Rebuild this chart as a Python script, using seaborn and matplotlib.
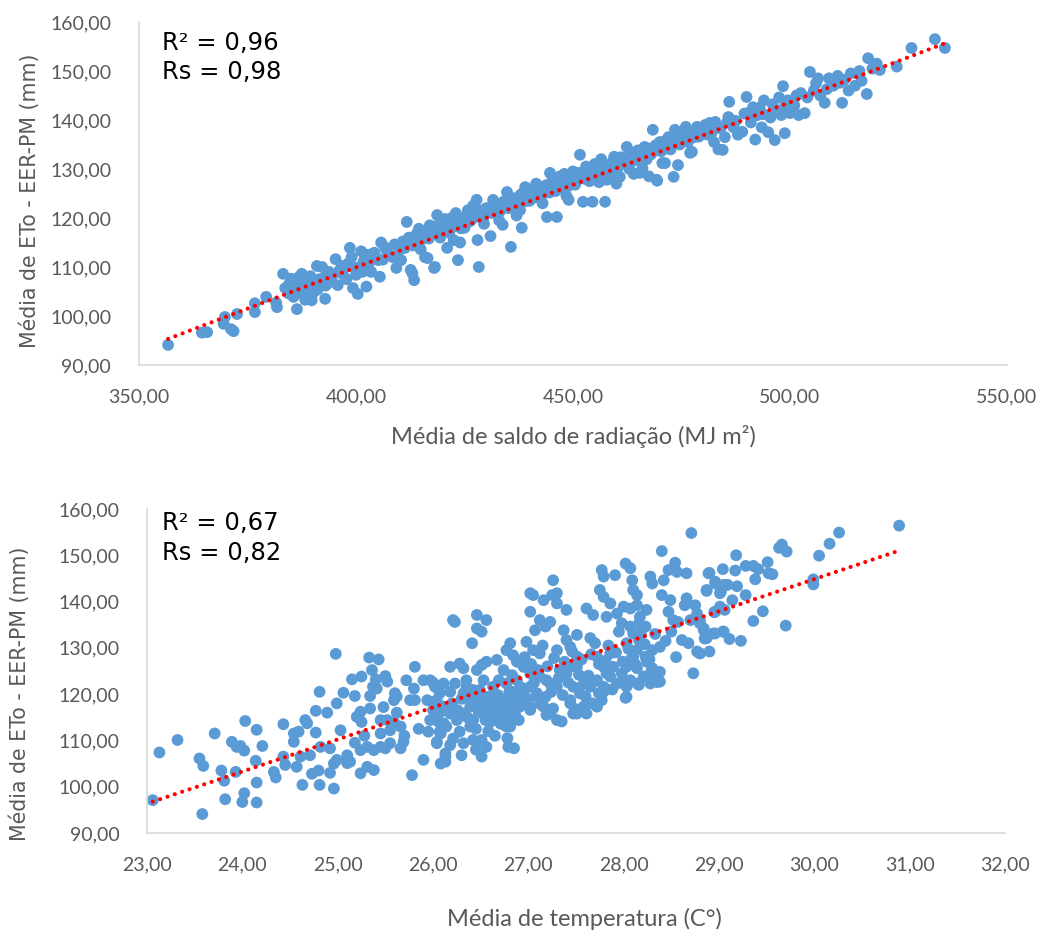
import numpy as np
import pandas as pd
import matplotlib
matplotlib.use("Agg")
import matplotlib.pyplot as plt
import seaborn as sns

# ---------------- data: top panel (net radiation vs ETo) ----------------
rad_x = [356.7, 364.5, 365.7, 371.2, 371.8, 369.8, 369.5, 372.6, 376.7, 376.7, 379.3, 381.6, 381.8,
         383.2, 383.7, 384.5, 385.6, 386.4, 385.0, 386.8, 387.5, 388.3, 389.8, 390.2, 388.7, 392.9,
         391.0, 392.2, 389.5, 390.4, 393.0, 394.5, 395.8, 395.3, 396.8, 398.6, 398.3, 399.3, 400.4,
         402.4, 400.0, 401.2, 401.8, 384.6, 387.0, 391.5, 393.8, 397.0, 399.0, 400.8, 402.8,
         403.5, 404.0, 405.5, 405.8, 406.2, 407.0, 408.5, 409.3, 410.0, 410.4, 411.5, 411.7, 412.6,
         413.0, 413.4, 413.8, 414.5, 415.0, 415.9, 416.4, 416.5, 417.0, 418.0, 418.2, 418.7, 419.4,
         420.0, 420.5,
         421.0, 421.5, 422.0, 422.5, 423.0, 423.5, 424.0, 424.6, 425.0, 425.8, 426.5, 427.0, 427.8,
         428.3, 428.0, 428.6, 429.5, 430.0, 431.0, 431.6, 432.0, 433.0, 433.8, 434.8, 435.2, 435.7,
         436.5, 437.0, 437.8, 438.2, 438.8, 439.0, 440.0,
         441.0, 441.5, 442.0, 443.0, 443.5, 444.0, 444.7, 445.2, 446.0, 446.3, 447.0, 447.5, 448.0,
         448.5, 449.0, 449.5, 450.0, 450.5, 451.6, 452.0, 452.3, 453.0, 453.8, 454.5, 455.0, 455.5,
         456.0, 456.5, 457.4, 457.8, 458.0, 459.0, 459.5, 460.0, 460.8,
         461.5, 462.4, 463.0, 463.5, 464.0, 464.5, 465.4, 466.0, 466.5, 467.0, 467.5, 468.4, 469.3,
         469.4, 470.0, 470.6, 471.2, 472.0, 472.5, 473.2, 473.5, 474.0, 474.2, 475.0, 476.0, 476.5,
         477.0, 477.4, 478.0, 478.6, 479.5,
         480.5, 481.5, 482.0, 482.5, 483.0, 483.5, 484.5, 485.0, 485.5, 486.0, 486.5, 487.0, 488.0,
         489.0, 490.0, 490.5, 491.0, 492.0, 492.5, 493.0, 493.5, 494.0, 495.0, 495.5, 496.5, 497.0,
         498.0, 498.4, 498.8, 499.5, 500.0,
         501.0, 501.5, 502.0, 503.4, 504.6, 505.5, 506.0, 507.0, 508.0, 509.0, 510.0, 511.0, 512.0,
         512.5, 513.5, 515.0, 516.5, 517.7, 518.0, 519.0, 520.0, 520.7, 524.6, 528.0, 533.4, 535.7,
         404.3, 405.1, 406.7, 407.4, 408.9, 409.6, 410.8, 411.3, 412.2, 413.1, 414.0, 414.9, 416.0,
         416.8, 417.6, 418.5, 419.2, 420.3, 421.2, 422.3, 423.2, 424.2, 425.3, 426.0, 426.9, 427.5,
         428.8, 429.3, 430.4, 431.3, 432.4, 433.2, 434.1, 435.0, 436.1, 436.9, 438.0, 438.9, 439.8,
         440.6, 441.8, 442.7, 443.9, 444.6, 445.7, 446.8, 447.7, 448.9, 449.8, 450.9, 451.2, 452.7,
         453.4, 454.2, 455.2, 456.3, 457.1, 458.5, 459.2, 460.4, 461.0, 462.0, 463.2, 464.3, 465.0,
         466.3, 467.2, 468.0, 469.0, 470.3, 471.0, 471.8, 473.0, 474.6, 475.5, 476.8, 477.8, 479.0,
         480.0, 481.0, 482.8, 484.0, 485.8, 487.5, 489.5, 491.5, 493.8, 496.0, 497.5, 499.0, 502.5,
         504.0, 506.5, 508.5, 511.5, 514.0, 516.0,
         385.3, 387.8, 389.0, 391.2, 392.8, 394.0, 396.2, 397.8, 399.6, 401.5, 402.0, 403.0]
rad_y = [94.1, 96.6, 96.7, 97.3, 96.9, 99.8, 98.4, 100.4, 100.8, 102.6, 103.9, 102.7, 101.8,
         108.6, 105.7, 104.6, 103.9, 101.4, 107.6, 107.9, 108.6, 103.3, 103.2, 104.8, 105.6, 103.5,
         110.2, 110.0, 108.1, 106.6, 106.2, 108.2, 106.3, 111.6, 110.2, 113.9, 110.8, 105.7, 104.5,
         106.0, 108.4, 113.2, 111.2, 106.5, 106.0, 107.5, 109.0, 108.5, 112.0, 110.0, 112.5,
         109.0, 112.8, 108.0, 115.0, 111.5, 113.5, 112.0, 109.8, 113.5, 111.4, 114.5, 119.2, 109.4,
         108.7, 107.3, 116.0, 117.8, 115.5, 112.0, 117.0, 111.8, 118.5, 109.8, 110.0, 120.6, 116.0,
         118.2, 119.8,
         113.9, 117.0, 120.0, 115.5, 121.0, 111.4, 115.0, 119.4, 118.0, 121.6, 119.5, 122.5, 123.7,
         110.0, 115.5, 120.6, 118.8, 122.0, 116.3, 123.7, 121.2, 119.5, 118.6, 125.3, 122.0, 114.1,
         124.0, 120.5, 121.6, 118.0, 125.5, 126.3, 123.5,
         125.0, 127.0, 124.2, 123.0, 126.5, 120.2, 129.2, 127.5, 125.5, 120.2, 128.5, 126.0, 129.0,
         124.5, 123.7, 127.8, 129.5, 126.8, 132.9, 128.5, 123.3, 130.5, 127.5, 123.3, 131.0, 129.0,
         127.3, 132.0, 123.3, 127.8, 130.5, 129.0, 132.5, 127.0, 128.4,
         131.5, 134.5, 130.0, 132.5, 129.0, 133.5, 129.2, 130.2, 134.5, 132.0, 128.5, 138.0, 127.8,
         127.6, 135.5, 131.2, 131.2, 136.5, 134.0, 128.4, 138.0, 135.3, 130.8, 137.0, 138.6, 135.5,
         133.3, 133.5, 136.5, 138.6, 137.5,
         139.0, 139.4, 137.5, 135.5, 138.5, 134.0, 133.9, 136.5, 139.5, 143.7, 140.0, 138.5, 137.0,
         137.6, 144.7, 141.5, 139.5, 136.0, 141.0, 142.5, 138.5, 144.0, 137.5, 140.5, 135.9, 142.0,
         141.0, 146.9, 137.3, 144.0, 141.4,
         143.0, 145.0, 141.0, 141.4, 149.8, 146.0, 147.5, 145.0, 143.5, 148.5, 147.0, 149.0, 143.5,
         148.2, 146.0, 147.0, 148.0, 145.3, 152.6, 150.5, 151.5, 150.2, 150.9, 154.7, 156.5, 154.7,
         112.9, 111.4, 114.0, 112.6, 114.6, 112.2, 115.2, 113.9, 116.0, 114.4, 116.8, 113.6, 117.4,
         115.8, 118.0, 116.9, 118.8, 117.5, 119.0, 118.2, 119.8, 117.9, 120.4, 119.2, 121.0, 120.2,
         121.5, 120.0, 122.0, 121.0, 122.8, 121.4, 123.4, 122.4, 124.0, 122.8, 124.8, 123.4, 125.3,
         124.0, 125.9, 124.5, 126.7, 125.2, 127.4, 126.0, 127.9, 126.5, 128.3, 127.6, 129.2, 128.0,
         129.9, 128.4, 130.4, 129.5, 131.0, 129.7, 131.6, 130.3, 132.4, 131.2, 133.1, 131.8, 133.8,
         132.4, 134.2, 133.0, 134.8, 133.6, 135.6, 134.2, 136.2, 135.0, 136.9, 136.0, 137.5, 136.6,
         138.2, 137.0, 139.6, 138.3, 140.6, 139.8, 141.3, 142.6, 141.2, 143.2, 144.6, 143.0, 145.5,
         144.6, 148.5, 146.3, 147.6, 149.5, 150.0,
         105.0, 104.5, 106.8, 105.4, 107.9, 106.9, 109.3, 107.5, 109.8, 109.0, 110.5, 110.8]

# ---------------- data: bottom panel (temperature vs ETo) ----------------
temp_x = [23.06, 23.13, 23.32, 23.55, 23.59, 23.58, 23.71, 23.78, 23.81, 23.82, 23.89, 23.98, 24.02,
          23.94, 23.93, 24.03, 24.00, 24.02, 24.14, 24.15, 24.15, 24.15, 24.21, 24.33, 24.35, 24.43,
          24.43, 24.45, 24.54, 24.59, 24.54, 24.57, 24.61, 24.63, 24.66, 24.68, 24.77, 24.71, 24.73,
          24.80, 24.81, 24.81, 24.77, 24.89, 24.82, 24.92, 24.92, 24.96, 24.98, 24.99, 25.03, 24.96,
          24.99, 25.10, 25.10, 25.06, 25.15, 25.18, 25.20, 25.25, 25.24, 25.24, 25.31, 25.38, 25.33,
          25.43, 25.25, 25.36, 25.40, 25.37, 25.34, 25.34, 25.41, 25.45, 25.52, 25.59, 25.66, 25.45,
          25.55, 25.69, 25.66, 25.50, 25.10, 25.13, 25.24, 25.31, 25.38, 25.45, 25.50, 25.52, 25.60,
          25.59, 25.62, 25.72, 25.80, 25.76, 25.81, 25.81, 25.90, 25.97, 25.94, 26.02, 26.00, 26.08,
          25.97, 26.04, 26.11, 25.95, 26.08, 25.90, 26.13, 26.08, 26.04, 25.78,
          26.00, 26.02, 26.07, 26.04, 26.13, 26.13, 26.21, 26.23, 26.18, 26.28, 26.32, 26.41, 26.46,
          26.56, 26.46, 26.51, 26.46, 26.51, 26.56, 26.35, 26.44, 26.49, 26.32, 26.42, 26.53, 26.51,
          26.51, 26.56, 26.67, 26.77, 26.81, 26.84, 26.74, 26.83, 26.60, 26.70, 26.77, 26.84, 26.63,
          26.74, 26.81, 26.91, 26.79, 27.02, 27.05, 27.16, 27.25, 27.30, 27.26, 27.02, 27.12, 27.07,
          27.18, 27.30, 27.40, 27.37, 27.23, 26.98, 27.05, 27.12, 27.02, 27.12, 27.23, 26.95, 27.02,
          27.09, 27.18, 27.02, 27.19, 27.26, 27.35, 27.40, 27.51, 27.30, 27.44, 27.51, 27.44, 27.33,
          27.40, 27.51, 27.47, 27.54, 27.58, 27.65, 27.44, 27.51, 27.67, 27.74, 27.61, 27.68, 27.65,
          27.70, 27.72, 27.79, 27.86, 27.89, 27.75, 27.79, 27.77, 27.91, 27.79, 27.86, 27.93, 27.82,
          27.82, 27.93, 27.98, 27.79, 28.03, 28.02, 28.07, 28.09, 28.10, 28.14, 28.00, 28.07, 28.14,
          28.17, 28.24, 27.98, 28.07, 28.16, 28.23, 28.10, 28.03, 28.16, 28.14, 28.23, 28.30, 28.38,
          28.07, 28.14, 28.24, 28.30, 28.38, 28.21, 28.28, 28.35, 28.38, 28.03, 28.14, 28.28, 28.30,
          28.42, 28.40, 28.40, 28.47, 28.54, 28.56, 28.66, 28.66, 28.64, 28.49, 28.47, 28.52, 28.57,
          28.70, 28.77, 28.75, 28.80, 28.84, 28.87, 28.61, 28.68, 28.77, 28.80, 28.73, 28.71, 28.87,
          28.96, 29.01, 29.05, 28.96, 29.01, 29.06, 29.05, 28.94, 28.89, 29.04,
          26.04, 26.11, 26.18, 26.25, 26.06, 26.14, 26.28, 26.07, 26.21, 26.32, 26.18, 26.39, 26.42,
          26.55, 26.60, 26.67, 26.72, 26.77, 26.86, 26.90, 26.79, 26.63, 26.69, 26.77, 26.84, 26.39,
          26.49, 26.56, 26.42, 26.32, 26.18, 26.23, 26.11, 26.35, 26.53,
          27.09, 27.16, 27.23, 27.30, 27.02, 27.44, 27.58, 27.72, 27.79, 27.86, 28.00, 28.07, 28.28,
          28.10, 28.03, 27.61, 27.72, 27.47, 27.30, 27.19, 26.88, 26.95, 26.91, 28.02, 28.16, 28.35,
          30.89, 30.26, 30.16, 30.05, 29.99, 29.99, 29.66, 29.71, 29.63, 29.70, 29.51, 29.52, 29.56,
          29.38, 29.46, 29.36, 29.18, 29.28, 29.36, 29.41, 29.17, 28.90, 28.96, 29.09, 29.19, 28.87,
          29.02, 29.14, 29.28, 28.95, 28.84, 28.80, 28.96, 29.04, 29.11, 29.23, 28.85, 28.90, 28.80,
          26.20, 26.26, 26.30, 26.36, 26.40, 26.45, 26.48, 26.52, 26.58, 26.60, 26.62, 26.65, 26.68,
          26.71, 26.75, 26.78, 26.80, 26.82, 26.86, 26.88, 26.92, 26.96, 26.99, 27.03, 27.06, 27.10,
          27.13, 27.15, 27.20, 27.24, 27.27, 27.32, 27.36, 27.38, 27.42, 27.46, 27.49, 27.53, 27.56,
          27.60, 27.63, 27.66, 27.70, 27.74, 27.77, 27.81, 27.84, 27.88, 27.92, 27.95, 27.99, 28.05,
          28.12, 28.18, 28.22, 28.27, 28.33, 28.44, 28.50, 28.55, 26.85, 26.45, 26.30, 25.85, 25.70,
          25.62, 25.55, 25.48, 25.28, 25.18]
temp_y = [97.1, 107.4, 110.1, 106.1, 104.5, 94.1, 111.5, 103.5, 101.3, 97.3, 109.7, 108.8, 107.8,
          108.6, 103.2, 114.2, 96.7, 98.6, 105.6, 112.3, 100.9, 96.6, 108.8, 103.2, 102.0, 113.5,
          106.5, 104.7, 109.7, 111.9, 111.5, 104.3, 106.5, 100.4, 114.4, 113.7, 111.7, 106.8, 102.8,
          103.5, 100.4, 120.5, 116.4, 116.0, 108.6, 108.3, 103.0, 99.6, 128.7, 118.0, 112.2, 105.0,
          105.8, 105.8, 105.1, 120.3, 123.2, 119.6, 115.1, 114.0, 116.2, 102.9, 104.3, 103.6, 127.9,
          127.5, 123.8, 125.2, 123.2, 121.6, 119.6, 116.9, 121.2, 114.4, 114.4, 114.0, 113.0, 111.5,
          109.4, 109.7, 108.3, 108.3, 106.8, 105.4, 107.9, 108.6, 107.9, 108.6, 123.9, 122.7, 120.2,
          118.7, 119.5, 123.0, 121.2, 118.7, 118.7, 125.9, 123.0, 123.0, 118.7, 118.4, 116.6, 116.2,
          114.4, 114.4, 113.7, 111.9, 111.5, 105.8, 106.5, 105.0, 109.4, 102.5,
          122.5, 121.6, 120.2, 109.7, 107.2, 105.4, 136.0, 135.6, 125.9, 126.6, 125.6, 131.0, 137.1,
          136.0, 134.2, 133.5, 125.2, 126.3, 127.0, 121.6, 119.4, 120.9, 115.8, 114.4, 116.6, 110.1,
          106.5, 108.6, 127.4, 129.5, 131.0, 128.4, 125.2, 124.1, 119.4, 118.7, 117.3, 118.0, 115.8,
          115.1, 113.0, 117.3, 108.6, 141.8, 141.4, 140.3, 141.4, 141.8, 144.6, 137.8, 136.0, 133.8,
          134.6, 139.6, 138.2, 133.8, 135.6, 131.3, 129.5, 128.8, 124.5, 123.8, 122.3, 125.9, 121.6,
          119.4, 119.4, 116.6, 115.5, 116.9, 114.1, 131.7, 132.8, 129.5, 130.2, 128.1, 125.9, 125.2,
          124.5, 125.9, 121.6, 120.2, 122.3, 121.6, 118.0, 115.8, 118.0, 120.2, 138.5, 137.1, 132.1,
          131.0, 128.1, 125.9, 128.8, 125.9, 142.5, 141.0, 146.8, 145.7, 145.4, 139.6, 137.4, 136.7,
          124.5, 122.3, 124.5, 120.5, 119.4, 148.2, 147.2, 144.6, 142.5, 141.4, 138.9, 138.5, 139.2,
          136.7, 138.2, 135.3, 134.6, 135.3, 134.6, 133.1, 131.0, 131.7, 129.5, 128.1, 129.5, 130.2,
          127.4, 125.6, 127.0, 125.6, 124.8, 123.8, 122.3, 124.1, 122.7, 121.6, 122.3, 145.4, 143.9,
          144.6, 141.4, 150.9, 146.8, 148.4, 146.4, 146.1, 140.7, 139.2, 140.3, 137.8, 136.0, 135.6,
          136.0, 137.4, 139.2, 135.3, 133.8, 132.1, 131.7, 131.0, 129.2, 128.8, 124.5, 154.8, 142.5,
          143.9, 141.8, 143.6, 137.8, 138.9, 138.2, 133.5, 133.1, 146.1, 147.0,
          118.7, 117.3, 115.8, 114.4, 114.0, 113.0, 111.9, 111.9, 110.4, 109.4, 109.0, 113.0, 110.1,
          114.4, 116.2, 114.4, 116.6, 113.0, 115.8, 114.4, 119.4, 121.6, 123.0, 122.3, 120.5, 117.3,
          118.0, 119.4, 120.9, 120.2, 120.5, 122.3, 122.3, 123.0, 123.0,
          120.2, 117.3, 115.8, 114.4, 117.3, 118.7, 117.3, 123.0, 121.6, 123.8, 122.3, 123.0, 124.5,
          128.1, 125.9, 115.8, 117.3, 115.8, 121.6, 123.0, 123.0, 120.2, 118.7, 119.2, 122.0, 122.6,
          156.4, 154.9, 152.5, 149.9, 144.8, 143.7, 152.3, 150.8, 151.6, 134.8, 148.5, 146.1, 145.9,
          144.8, 137.9, 135.8, 150.0, 147.7, 147.7, 147.0, 146.7, 146.2, 144.3, 143.6, 143.3, 142.3,
          142.1, 140.3, 141.4, 137.7, 134.2, 136.0, 133.1, 133.5, 131.9, 131.5, 132.0, 129.2, 128.8,
          118.0, 116.5, 119.0, 115.0, 118.5, 112.5, 116.0, 118.7, 112.0, 114.0, 117.5, 111.0, 119.8,
          113.6, 116.4, 110.5, 120.5, 114.8, 119.0, 127.0, 121.5, 128.0, 119.0, 126.5, 122.5, 125.2,
          117.8, 130.5, 126.0, 120.5, 127.8, 123.5, 119.8, 127.0, 122.5, 129.2, 116.8, 124.2, 127.5,
          119.5, 124.0, 128.6, 122.8, 126.5, 118.7, 127.2, 130.5, 121.0, 129.0, 133.5, 127.0, 129.8,
          126.5, 133.0, 130.8, 127.5, 133.0, 131.5, 133.5, 128.0, 108.3, 108.0, 106.8, 112.5, 111.0,
          116.0, 112.2, 117.2, 111.0, 109.5]

rad_xticks = [350, 400, 450, 500, 550]
temp_xticks = [23, 24, 25, 26, 27, 28, 29, 30, 31, 32]
eto_yticks = [90, 100, 110, 120, 130, 140, 150, 160]

stats_top = ["R\u00b2 = 0,96", "Rs = 0,98"]
stats_bot = ["R\u00b2 = 0,67", "Rs = 0,82"]
ylabel = "Média de ETo - EER-PM (mm)"
xlabel_top = "Média de saldo de radiação (MJ m\u00b2)"
xlabel_bot = "Média de temperatura (C°)"

df_top = pd.DataFrame({"x": rad_x, "y": rad_y})
df_bot = pd.DataFrame({"x": temp_x, "y": temp_y})

sns.set_theme(style="white")
plt.rcParams["font.family"] = ["Lato", "DejaVu Sans"]

PT_COLOR = "#5B9BD5"
GREY = "#595959"
SPINE = "#D9D9D9"

fig = plt.figure(figsize=(10.45, 9.32), dpi=100)
ax1 = fig.add_axes([0.133, 0.6084, 0.8306, 0.368])
ax2 = fig.add_axes([0.1407, 0.1062, 0.821, 0.3477])

def fmt(v):
    return f"{v:.2f}".replace(".", ",")

def style(ax, df, xticks, xlabel, stats, xl_y, xl_x, yl_x, yl_y, st_x, st_y):
    sns.scatterplot(data=df, x="x", y="y", ax=ax, color=PT_COLOR, s=72,
                    edgecolor="none", linewidth=0, zorder=2)
    sns.regplot(data=df, x="x", y="y", ax=ax, scatter=False, ci=None, truncate=True,
                line_kws=dict(color="#FF0000", lw=3.0, ls=(0, (0.01, 1.85)),
                              dash_capstyle="round", zorder=3))
    ax.set_xlim(xticks[0], xticks[-1])
    ax.set_ylim(eto_yticks[0], eto_yticks[-1])
    ax.set_xticks(xticks)
    ax.set_yticks(eto_yticks)
    ax.set_xticklabels([fmt(v) for v in xticks])
    ax.set_yticklabels([fmt(v) for v in eto_yticks])
    ax.tick_params(axis="both", length=0, labelsize=14, labelcolor=GREY)
    ax.tick_params(axis="x", pad=17)
    ax.tick_params(axis="y", pad=20)
    for s in ["top", "right"]:
        ax.spines[s].set_visible(False)
    for s in ["left", "bottom"]:
        ax.spines[s].set_color(SPINE)
        ax.spines[s].set_linewidth(1.2)
    ax.set_xlabel(xlabel, fontsize=17, color=GREY, va="center", ha="center")
    ax.xaxis.set_label_coords(xl_x, xl_y)
    ax.set_ylabel(ylabel, fontsize=14.8, color=GREY, va="center", ha="center",
                  family=["DejaVu Sans"])
    ax.yaxis.set_label_coords(yl_x, yl_y)
    ax.text(st_x, st_y[0], stats[0], transform=ax.transAxes, fontsize=17.5,
            color="black", va="center", ha="left", family=["DejaVu Sans"])
    ax.text(st_x, st_y[1], stats[1], transform=ax.transAxes, fontsize=17.5,
            color="black", va="center", ha="left", family=["DejaVu Sans"])

style(ax1, df_top, rad_xticks, xlabel_top, stats_top, -0.21, 0.5, -0.126, 0.48,
      0.026, (0.939, 0.854))
style(ax2, df_bot, temp_xticks, xlabel_bot, stats_bot, -0.265, 0.51, -0.148, 0.43,
      0.017, (0.957, 0.864))

fig.savefig("out.png", dpi=100)
